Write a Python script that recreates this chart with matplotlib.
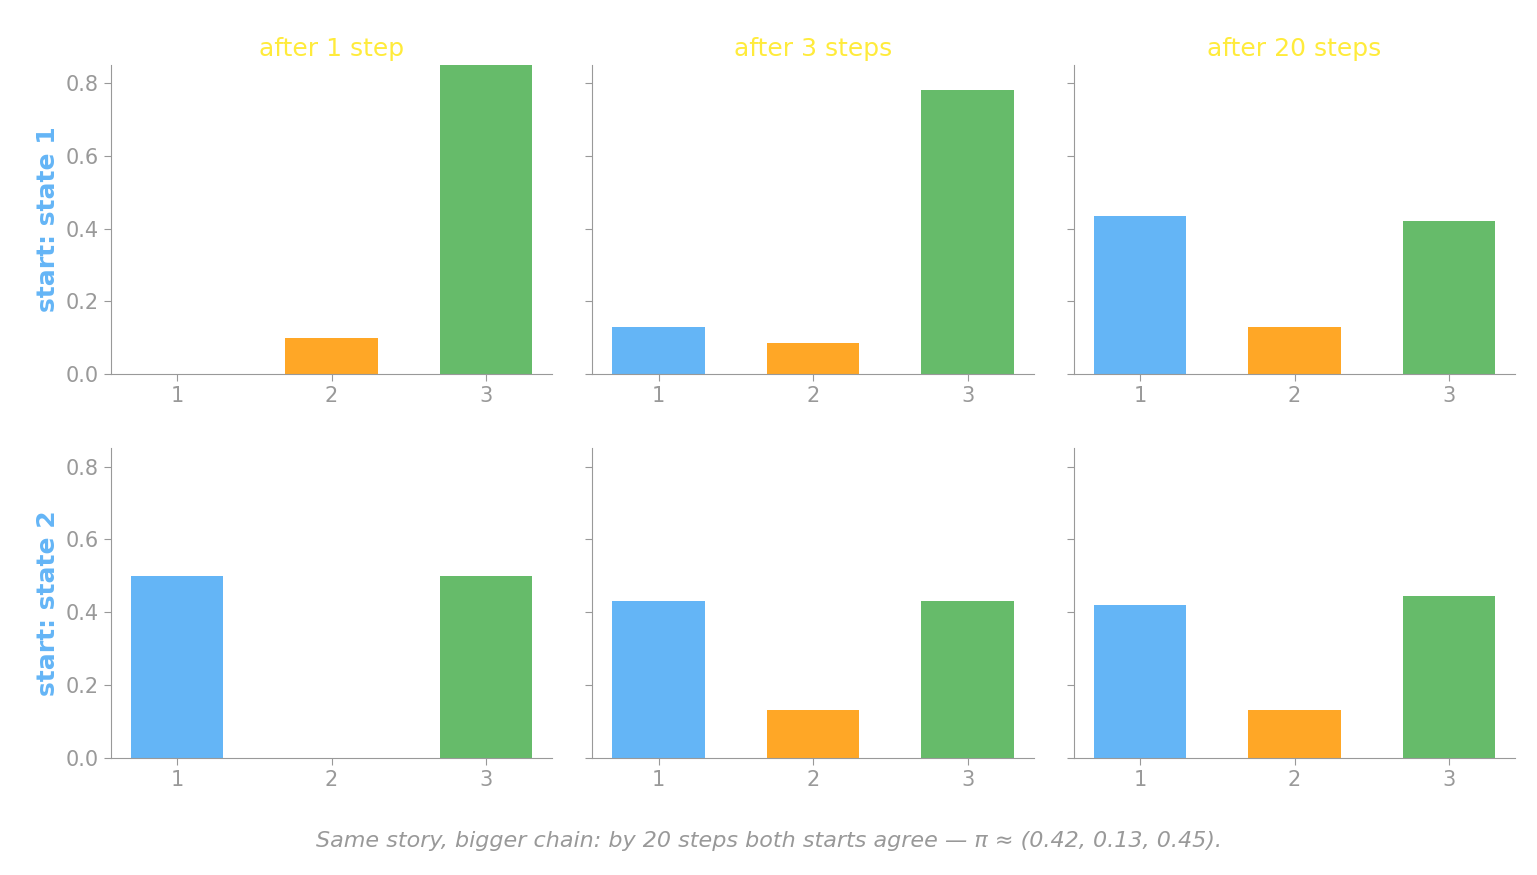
import matplotlib
matplotlib.use("Agg")
import matplotlib.pyplot as plt

states = ["1", "2", "3"]
col_titles = ["after 1 step", "after 3 steps", "after 20 steps"]
row_titles = ["start: state 1", "start: state 2"]
start1 = [[0.0, 0.10, 0.85], [0.13, 0.085, 0.78], [0.435, 0.13, 0.42]]
start2 = [[0.50, 0.0, 0.50], [0.43, 0.13, 0.43], [0.42, 0.13, 0.445]]
colors = ["#64B5F6", "#FFA726", "#66BB6A"]
grey = "#999999"

fig, axes = plt.subplots(2, 3, figsize=(15.37, 8.75), dpi=100, sharey=True)
fig.subplots_adjust(left=0.072, right=0.986, top=0.926, bottom=0.134,
                    wspace=0.09, hspace=0.24)

for r, data in enumerate([start1, start2]):
    for c, vals in enumerate(data):
        ax = axes[r, c]
        ax.bar(states, vals, width=0.6, color=colors)
        ax.set_ylim(0, 0.85)
        for s in ["top", "right"]:
            ax.spines[s].set_visible(False)
        for s in ["left", "bottom"]:
            ax.spines[s].set_color(grey)
        ax.tick_params(colors=grey, labelsize=15, length=5)
        if r == 0:
            ax.set_title(col_titles[c], color="#FFEB3B", fontsize=18)
        if c == 0:
            ax.set_ylabel(row_titles[r], color="#64B5F6", fontsize=18,
                          fontweight="bold")

fig.text(0.5, 0.032, "Same story, bigger chain: by 20 steps both starts agree \u2014 \u03c0 \u2248 (0.42, 0.13, 0.45).",
         ha="center", color=grey, fontsize=16, style="italic")
fig.savefig("out.png")
